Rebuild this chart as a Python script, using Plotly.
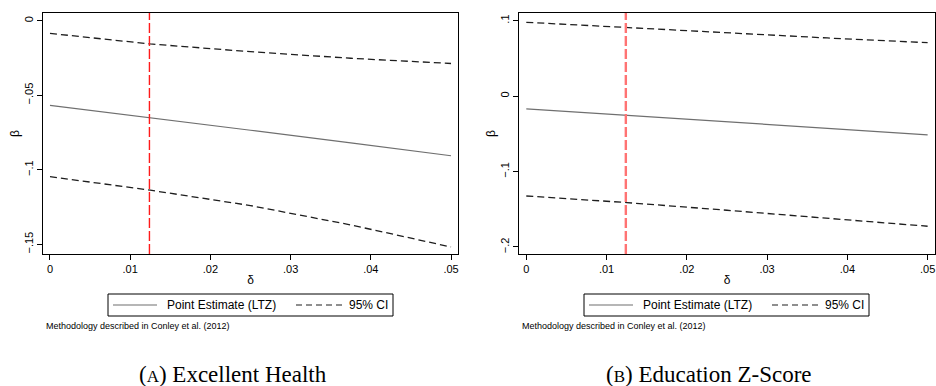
import plotly.graph_objects as go

# ---------------- data ----------------
delta = [0.0, 0.0125, 0.025, 0.0375, 0.05]

# Panel A: Excellent Health
a_point = [-0.0568, -0.0649, -0.0735, -0.0820, -0.0906]
a_upper = [-0.0085, -0.0156, -0.0208, -0.0252, -0.0287]
a_lower = [-0.1046, -0.1137, -0.1240, -0.1370, -0.1518]

# Panel B: Education Z-Score
b_point = [-0.0168, -0.0256, -0.0340, -0.0426, -0.0513]
b_upper = [0.0979, 0.0907, 0.0835, 0.0771, 0.0708]
b_lower = [-0.1324, -0.1411, -0.1513, -0.1617, -0.1725]

ref_delta = 0.0124

x_tickvals = [0, 0.01, 0.02, 0.03, 0.04, 0.05]
x_ticktext = ["0", ".01", ".02", ".03", ".04", ".05"]
a_tickvals = [0, -0.05, -0.1, -0.15]
a_ticktext = ["0", "\u2212.05", "\u2212.1", "\u2212.15"]
b_tickvals = [0.1, 0, -0.1, -0.2]
b_ticktext = [".1", "0", "\u2212.1", "\u2212.2"]

legend_labels = ["Point Estimate (LTZ)", "95% CI"]
note_text = "Methodology described in Conley et al. (2012)"
captions = ["(<span style='font-size:17px'>A</span>) Excellent Health",
            "(<span style='font-size:17px'>B</span>) Education Z-Score"]

# ---------------- layout geometry ----------------
W, H = 936, 386
ML, MR, MT, MB = 43, 1, 13, 132
PW = W - ML - MR
PH = H - MT - MB


def xp(px):
    return (px - ML) / PW


def yp(py):
    return (H - MB - py) / PH


POINT_COLOR = "#6f6f6f"
CI_COLOR = "#1e1e1e"
SANS = "Liberation Sans, Arial, sans-serif"
SERIF = "Liberation Serif, Times New Roman, serif"

fig = go.Figure()

panels = [
    dict(point=a_point, upper=a_upper, lower=a_lower, xa="x", ya="y",
         red="#ff1a1a", redw=1.4),
    dict(point=b_point, upper=b_upper, lower=b_lower, xa="x2", ya="y2",
         red="#ff7373", redw=2.4),
]

for p in panels:
    fig.add_trace(go.Scatter(x=delta, y=p["upper"], mode="lines", xaxis=p["xa"], yaxis=p["ya"],
                             line=dict(color=CI_COLOR, width=1.3, dash="7px,4px"),
                             showlegend=False, hoverinfo="skip"))
    fig.add_trace(go.Scatter(x=delta, y=p["lower"], mode="lines", xaxis=p["xa"], yaxis=p["ya"],
                             line=dict(color=CI_COLOR, width=1.3, dash="7px,4px"),
                             showlegend=False, hoverinfo="skip"))
    fig.add_trace(go.Scatter(x=delta, y=p["point"], mode="lines", xaxis=p["xa"], yaxis=p["ya"],
                             line=dict(color=POINT_COLOR, width=1.2),
                             showlegend=False, hoverinfo="skip"))
    fig.add_shape(type="line", xref=p["xa"], yref=p["ya"] + " domain",
                  x0=ref_delta, x1=ref_delta, y0=0, y1=1,
                  line=dict(color=p["red"], width=p["redw"], dash="10px,3px"))

axis_common = dict(showgrid=False, zeroline=False, showline=True, linecolor="black",
                   linewidth=1, mirror=True, ticks="outside", ticklen=5, tickcolor="black",
                   tickwidth=1, tickfont=dict(family=SANS, size=11, color="black"),
                   automargin=False)

fig.update_layout(
    width=W, height=H,
    margin=dict(l=ML, r=MR, t=MT, b=MB, pad=0),
    paper_bgcolor="white", plot_bgcolor="white",
    showlegend=False,
    xaxis=dict(domain=[0, xp(458)], range=[-0.00087, 0.05087], tickvals=x_tickvals,
               ticktext=x_ticktext, anchor="y",
               title=dict(text="\u03b4", font=dict(family=SANS, size=12, color="black"), standoff=1),
               **axis_common),
    yaxis=dict(domain=[0, 1], range=[-0.1565, 0.00517], tickvals=a_tickvals,
               ticktext=a_ticktext, tickangle=-90, anchor="x",
               title=dict(text="\u03b2", font=dict(family=SANS, size=12, color="black"), standoff=0),
               **axis_common),
    xaxis2=dict(domain=[xp(519), 1], range=[-0.00091, 0.05092], tickvals=x_tickvals,
                ticktext=x_ticktext, anchor="y2",
                title=dict(text="\u03b4", font=dict(family=SANS, size=12, color="black"), standoff=1),
                **axis_common),
    yaxis2=dict(domain=[0, 1], range=[-0.2093, 0.1102], tickvals=b_tickvals,
                ticktext=b_ticktext, tickangle=-90, anchor="x2",
                title=dict(text="\u03b2", font=dict(family=SANS, size=12, color="black"), standoff=0),
                **axis_common),
)

# ---------------- legends, notes, captions ----------------
for k, off in enumerate([0, 476]):
    # legend box
    fig.add_shape(type="rect", xref="paper", yref="paper",
                  x0=xp(108 + off), x1=xp(393 + off), y0=yp(316), y1=yp(294),
                  line=dict(color="black", width=1), fillcolor="white", layer="above")
    # solid sample
    fig.add_shape(type="line", xref="paper", yref="paper",
                  x0=xp(113 + off), x1=xp(157 + off), y0=yp(305), y1=yp(305),
                  line=dict(color=POINT_COLOR, width=1.2))
    fig.add_annotation(xref="paper", yref="paper", x=xp(165 + off), y=yp(305),
                       xanchor="left", yanchor="middle", showarrow=False,
                       text=legend_labels[0], font=dict(family=SANS, size=12, color="black"))
    # dashed sample
    fig.add_shape(type="line", xref="paper", yref="paper",
                  x0=xp(296 + off), x1=xp(342 + off), y0=yp(305), y1=yp(305),
                  line=dict(color=CI_COLOR, width=1.2, dash="6px,4px"))
    fig.add_annotation(xref="paper", yref="paper", x=xp(347 + off), y=yp(305),
                       xanchor="left", yanchor="middle", showarrow=False,
                       text=legend_labels[1], font=dict(family=SANS, size=12, color="black"))
    # note
    fig.add_annotation(xref="paper", yref="paper", x=xp(44 + off), y=yp(326),
                       xanchor="left", yanchor="middle", showarrow=False,
                       text=note_text, font=dict(family=SANS, size=9, color="black"))
    # caption
    fig.add_annotation(xref="paper", yref="paper", x=xp(233 + off), y=yp(374),
                       xanchor="center", yanchor="middle", showarrow=False,
                       text=captions[k], font=dict(family=SERIF, size=23, color="black"))

fig.write_html("out.html")
